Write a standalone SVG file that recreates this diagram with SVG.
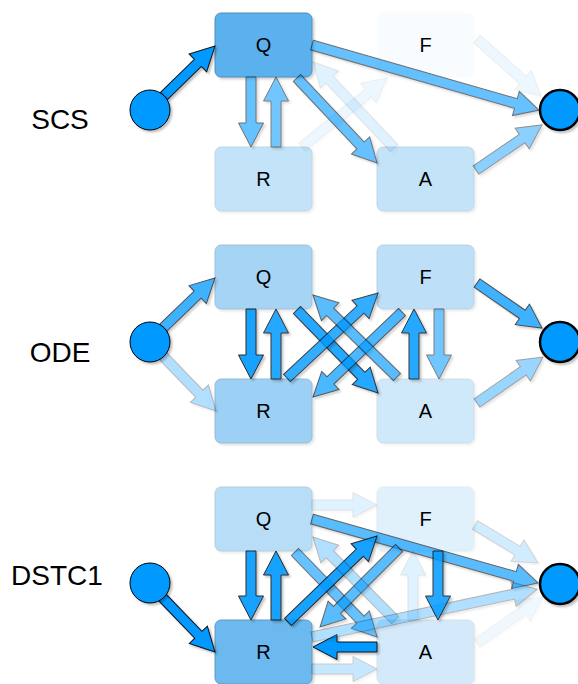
<svg xmlns="http://www.w3.org/2000/svg" width="578" height="684" viewBox="0 0 578 684">
<defs>
<filter id="sh" x="-20%" y="-20%" width="140%" height="140%">
<feDropShadow dx="2" dy="2" stdDeviation="1" flood-color="#000" flood-opacity="0.25"/>
</filter>
</defs>
<style>
.box{fill:#1591e7;stroke:#0f5f99;stroke-width:1}
.lbl{font-family:"Liberation Sans",Arial,sans-serif;font-size:20px;fill:#000;text-anchor:middle}
.title{font-family:"Liberation Sans",Arial,sans-serif;font-size:28px;fill:#000;text-anchor:middle}
.arr path{fill:#0099ff;stroke:#111;stroke-width:1;stroke-linejoin:miter}
.src{fill:#0099ff;stroke:#000;stroke-width:1}
.snk{fill:#0099ff;stroke:#000;stroke-width:2.5}
</style>
<rect width="578" height="684" fill="#fff"/>

<g id="labels">
<text class="title" x="60" y="129">SCS</text>
<text class="title" x="60" y="362">ODE</text>
<text class="title" x="57" y="585">DSTC1</text>
</g>

<!-- SCS nodes -->
<g id="scs-Q"><rect class="box" x="215" y="13" width="97" height="64" rx="6" opacity="0.7" filter="url(#sh)"/><text class="lbl" x="263.5" y="52">Q</text></g>
<g id="scs-R"><rect class="box" x="215" y="147" width="97" height="64" rx="6" opacity="0.25" filter="url(#sh)"/><text class="lbl" x="263.5" y="186">R</text></g>
<g id="scs-F"><rect class="box" x="377" y="13" width="97" height="64" rx="6" opacity="0.02"/><text class="lbl" x="425.5" y="52">F</text></g>
<g id="scs-A"><rect class="box" x="377" y="147" width="97" height="64" rx="6" opacity="0.25" filter="url(#sh)"/><text class="lbl" x="425.5" y="186">A</text></g>

<!-- ODE nodes -->
<g id="ode-Q"><rect class="box" x="215" y="245" width="97" height="64" rx="6" opacity="0.38" filter="url(#sh)"/><text class="lbl" x="263.5" y="284">Q</text></g>
<g id="ode-R"><rect class="box" x="215" y="379" width="97" height="64" rx="6" opacity="0.42" filter="url(#sh)"/><text class="lbl" x="263.5" y="418">R</text></g>
<g id="ode-F"><rect class="box" x="377" y="245" width="97" height="64" rx="6" opacity="0.28" filter="url(#sh)"/><text class="lbl" x="425.5" y="284">F</text></g>
<g id="ode-A"><rect class="box" x="377" y="379" width="97" height="64" rx="6" opacity="0.2" filter="url(#sh)"/><text class="lbl" x="425.5" y="418">A</text></g>

<!-- DSTC1 nodes -->
<g id="dstc-Q"><rect class="box" x="215" y="487" width="97" height="64" rx="6" opacity="0.3" filter="url(#sh)"/><text class="lbl" x="263.5" y="526">Q</text></g>
<g id="dstc-R"><rect class="box" x="215" y="620" width="97" height="64" rx="6" opacity="0.63" filter="url(#sh)"/><text class="lbl" x="263.5" y="659">R</text></g>
<g id="dstc-F"><rect class="box" x="377" y="487" width="97" height="64" rx="6" opacity="0.12" filter="url(#sh)"/><text class="lbl" x="425.5" y="526">F</text></g>
<g id="dstc-A"><rect class="box" x="377" y="620" width="97" height="64" rx="6" opacity="0.18" filter="url(#sh)"/><text class="lbl" x="425.5" y="659">A</text></g>

<g id="connectors">
<!-- SCS -->
<g class="arr" opacity="1" filter="url(#sh)"><path transform="translate(164,96) rotate(-44.4)" d="M0,-5H47.4V-12.5L71.4,0L47.4,12.5V5H0Z"/></g>
<g class="arr" opacity="0.6" filter="url(#sh)"><path transform="translate(251,77) rotate(90)" d="M0,-5H46V-12.5L70,0L46,12.5V5H0Z"/></g>
<g class="arr" opacity="0.55" filter="url(#sh)"><path transform="translate(276,147) rotate(-90)" d="M0,-5H46V-12.5L70,0L46,12.5V5H0Z"/></g>
<g class="arr" opacity="0.6" filter="url(#sh)"><path transform="translate(297,78) rotate(46.7)" d="M0,-5H92.7V-12.5L116.7,0L92.7,12.5V5H0Z"/></g>
<g class="arr" opacity="0.6" filter="url(#sh)"><path transform="translate(312,45) rotate(16)" d="M0,-5H212.1V-12.5L236.1,0L212.1,12.5V5H0Z"/></g>
<g class="arr" opacity="0.45" filter="url(#sh)"><path transform="translate(476,170) rotate(-34.3)" d="M0,-5H55.9V-12.5L79.9,0L55.9,12.5V5H0Z"/></g>
<g class="arr" opacity="0.07" filter="url(#sh)"><path transform="translate(477,39) rotate(41.7)" d="M0,-5H61.7V-12.5L85.7,0L61.7,12.5V5H0Z"/></g>
<g class="arr" opacity="0.07" filter="url(#sh)"><path transform="translate(302,147) rotate(-39.1)" d="M0,-5H85.5V-12.5L109.5,0L85.5,12.5V5H0Z"/></g>
<g class="arr" opacity="0.12" filter="url(#sh)"><path transform="translate(394,148) rotate(-133.3)" d="M0,-5H94.1V-12.5L118.1,0L94.1,12.5V5H0Z"/></g>

<!-- ODE -->
<g class="arr" opacity="0.75" filter="url(#sh)"><path transform="translate(163,328) rotate(-43.9)" d="M0,-5H48.1V-12.5L72.1,0L48.1,12.5V5H0Z"/></g>
<g class="arr" opacity="0.3" filter="url(#sh)"><path transform="translate(162,355) rotate(46)" d="M0,-5H53.8V-12.5L77.8,0L53.8,12.5V5H0Z"/></g>
<g class="arr" opacity="0.9" filter="url(#sh)"><path transform="translate(251,309) rotate(90)" d="M0,-5H46V-12.5L70,0L46,12.5V5H0Z"/></g>
<g class="arr" opacity="0.85" filter="url(#sh)"><path transform="translate(276,379) rotate(-90)" d="M0,-5H46V-12.5L70,0L46,12.5V5H0Z"/></g>
<g class="arr" opacity="0.85" filter="url(#sh)"><path transform="translate(297,310) rotate(45.7)" d="M0,-5H92V-12.5L116,0L92,12.5V5H0Z"/></g>
<g class="arr" opacity="0.8" filter="url(#sh)"><path transform="translate(287,378) rotate(-43)" d="M0,-5H100.5V-12.5L124.5,0L100.5,12.5V5H0Z"/></g>
<g class="arr" opacity="0.7" filter="url(#sh)"><path transform="translate(402,312) rotate(136.3)" d="M0,-5H99.1V-12.5L123.1,0L99.1,12.5V5H0Z"/></g>
<g class="arr" opacity="0.65" filter="url(#sh)"><path transform="translate(397,377) rotate(-135.7)" d="M0,-5H93.4V-12.5L117.4,0L93.4,12.5V5H0Z"/></g>
<g class="arr" opacity="0.85" filter="url(#sh)"><path transform="translate(414,379) rotate(-90)" d="M0,-5H46V-12.5L70,0L46,12.5V5H0Z"/></g>
<g class="arr" opacity="0.55" filter="url(#sh)"><path transform="translate(439,309) rotate(90)" d="M0,-5H46V-12.5L70,0L46,12.5V5H0Z"/></g>
<g class="arr" opacity="0.75" filter="url(#sh)"><path transform="translate(477,283) rotate(34.7)" d="M0,-5H55.1V-12.5L79.1,0L55.1,12.5V5H0Z"/></g>
<g class="arr" opacity="0.4" filter="url(#sh)"><path transform="translate(477,403) rotate(-34.9)" d="M0,-5H56.4V-12.5L80.4,0L56.4,12.5V5H0Z"/></g>

<!-- DSTC1 -->
<g class="arr" opacity="1" filter="url(#sh)"><path transform="translate(162,597) rotate(46.1)" d="M0,-5H52.4V-12.5L76.4,0L52.4,12.5V5H0Z"/></g>
<g class="arr" opacity="0.9" filter="url(#sh)"><path transform="translate(251,551) rotate(90)" d="M0,-5H45V-12.5L69,0L45,12.5V5H0Z"/></g>
<g class="arr" opacity="0.9" filter="url(#sh)"><path transform="translate(276,620) rotate(-90)" d="M0,-5H45V-12.5L69,0L45,12.5V5H0Z"/></g>
<g class="arr" opacity="0.12" filter="url(#sh)"><path transform="translate(312,505) rotate(0)" d="M0,-5H41V-12.5L65,0L41,12.5V5H0Z"/></g>
<g class="arr" opacity="0.65" filter="url(#sh)"><path transform="translate(312,519) rotate(15.8)" d="M0,-5H210.9V-12.5L234.9,0L210.9,12.5V5H0Z"/></g>
<g class="arr" opacity="0.6" filter="url(#sh)"><path transform="translate(295,552) rotate(46)" d="M0,-5H94.1V-12.5L118.1,0L94.1,12.5V5H0Z"/></g>
<g class="arr" opacity="0.9" filter="url(#sh)"><path transform="translate(288,622) rotate(-44)" d="M0,-5H99.8V-12.5L123.8,0L99.8,12.5V5H0Z"/></g>
<g class="arr" opacity="0.65" filter="url(#sh)"><path transform="translate(399,548) rotate(135)" d="M0,-5H87.7V-12.5L111.7,0L87.7,12.5V5H0Z"/></g>
<g class="arr" opacity="0.3" filter="url(#sh)"><path transform="translate(395,620) rotate(-134.7)" d="M0,-5H92.7V-12.5L116.7,0L92.7,12.5V5H0Z"/></g>
<g class="arr" opacity="1" filter="url(#sh)"><path transform="translate(377,647) rotate(180)" d="M0,-5H40V-12.5L64,0L40,12.5V5H0Z"/></g>
<g class="arr" opacity="0.22" filter="url(#sh)"><path transform="translate(312,669) rotate(0)" d="M0,-5H41V-12.5L65,0L41,12.5V5H0Z"/></g>
<g class="arr" opacity="0.3" filter="url(#sh)"><path transform="translate(312,637) rotate(-12)" d="M0,-5H206.1V-12.5L230.1,0L206.1,12.5V5H0Z"/></g>
<g class="arr" opacity="0.85" filter="url(#sh)"><path transform="translate(438,551) rotate(90)" d="M0,-5H45V-12.5L69,0L45,12.5V5H0Z"/></g>
<g class="arr" opacity="0.12" filter="url(#sh)"><path transform="translate(413,620) rotate(-90)" d="M0,-5H45V-12.5L69,0L45,12.5V5H0Z"/></g>
<g class="arr" opacity="0.18" filter="url(#sh)"><path transform="translate(475,525) rotate(31.1)" d="M0,-5H49.6V-12.5L73.6,0L49.6,12.5V5H0Z"/></g>
<g class="arr" opacity="0.06" filter="url(#sh)"><path transform="translate(477,643) rotate(-34.9)" d="M0,-5H56.4V-12.5L80.4,0L56.4,12.5V5H0Z"/></g>
</g>

<g id="scs-in"><circle class="src" cx="150" cy="110" r="20" filter="url(#sh)"/></g>
<g id="scs-out"><circle class="snk" cx="560" cy="110" r="20" filter="url(#sh)"/></g>
<g id="ode-in"><circle class="src" cx="150" cy="342" r="20" filter="url(#sh)"/></g>
<g id="ode-out"><circle class="snk" cx="560" cy="342" r="20" filter="url(#sh)"/></g>
<g id="dstc-in"><circle class="src" cx="150" cy="583" r="20" filter="url(#sh)"/></g>
<g id="dstc-out"><circle class="snk" cx="560" cy="584" r="20" filter="url(#sh)"/></g>
</svg>
